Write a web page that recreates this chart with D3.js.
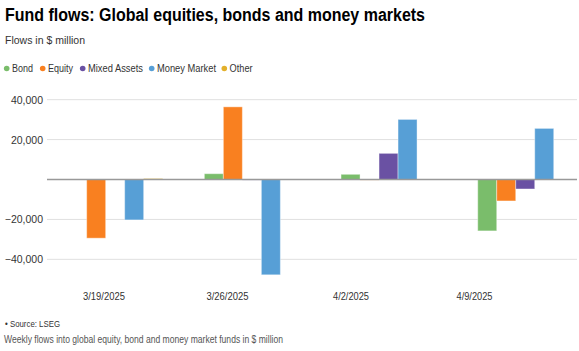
<!DOCTYPE html>
<html><head><meta charset="utf-8">
<script src="https://cdn.jsdelivr.net/npm/d3@7"></script>
<style>body{margin:0;background:#fff;}svg{display:block;font-family:"Liberation Sans",Arial,sans-serif;}</style>
</head><body><svg id="c" width="579" height="351"></svg>
<script>
const dates = ["3/19/2025", "3/26/2025", "4/2/2025", "4/9/2025"];
const seriesNames = ["Bond", "Equity", "Mixed Assets", "Money Market", "Other"];
const bond = [0, 2900, 2600, -25750];
const equity = [-29400, 36400, -300, -10750];
const mixedAssets = [0, -300, 13100, -4750];
const moneyMarket = [-20250, -47750, 30100, 25600];
const other = [500, 0, 0, 0];
const yTicks = [-40000, -20000, 20000, 40000];
const colors = ["#7abd6b", "#f98020", "#6a51a3", "#579fd6", "#e3b02b"];

const seriesValues = [bond, equity, mixedAssets, moneyMarket, other];
const svg = d3.select("#c");

function fit(sel, w) { sel.attr("textLength", w).attr("lengthAdjust", "spacingAndGlyphs"); return sel; }

fit(svg.append("text").attr("x", 5).attr("y", 21).attr("font-size", 17.5).attr("font-weight", "bold")
  .attr("fill", "#000").text("Fund flows: Global equities, bonds and money markets"), 420);
fit(svg.append("text").attr("x", 5).attr("y", 43.5).attr("font-size", 11.5).attr("fill", "#333").text("Flows in $ million"), 80);

// legend
const legendX = [6.7, 42.7, 82.7, 151.7, 224.3];
const legendW = [21, 25, 55, 59, 23];
seriesNames.forEach((n, i) => {
  const g = svg.append("g").attr("transform", `translate(${legendX[i]},68.5)`);
  g.append("circle").attr("r", 2.8).attr("cy", 0).attr("fill", colors[i]);
  fit(g.append("text").attr("x", 5.3).attr("y", 3.6).attr("font-size", 10).attr("fill", "#333").text(n), legendW[i]);
});

const y = d3.scaleLinear().domain([-50000, 50000]).range([279.3, 79.7]);
const x0 = d3.scaleBand().domain(dates).range([54, 586.4]).paddingInner(0.305).paddingOuter(0.1);
const x1 = d3.scaleBand().domain(seriesNames).range([0, x0.bandwidth()]);
const xl = d3.scalePoint().domain(dates).range([104, 474.5]);

// gridlines
svg.append("g").selectAll("line").data(yTicks).join("line")
  .attr("x1", 47).attr("x2", 577).attr("y1", d => y(d)).attr("y2", d => y(d))
  .attr("stroke", "#e0e0e0").attr("stroke-width", 1);
svg.append("g").selectAll("text").data(yTicks).join("text")
  .attr("x", 43).attr("y", d => y(d) + 4).attr("text-anchor", "end").attr("font-size", 10.5).attr("fill", "#333")
  .text(d => d3.format(",")(d));

// bars
const data = [];
dates.forEach((d, di) => seriesNames.forEach((s, si) => data.push({d, s, si, v: seriesValues[si][di]})));
svg.append("g").selectAll("rect").data(data).join("rect")
  .attr("x", d => x0(d.d) + x1(d.s))
  .attr("width", x1.bandwidth())
  .attr("y", d => y(Math.max(0, d.v)))
  .attr("height", d => Math.abs(y(d.v) - y(0)))
  .attr("fill", d => colors[d.si])
  .attr("stroke", "rgba(255,255,255,0.4)").attr("stroke-width", 1);

// zero line
svg.append("line").attr("x1", 47).attr("x2", 577).attr("y1", y(0)).attr("y2", y(0))
  .attr("stroke", "#999").attr("stroke-width", 1.5);

// x labels
const xlW = {"3/19/2025": 42, "3/26/2025": 42, "4/2/2025": 36, "4/9/2025": 36};
svg.append("g").selectAll("text").data(dates).join("text")
  .attr("x", d => xl(d)).attr("y", 299.5).attr("text-anchor", "middle").attr("font-size", 10.5).attr("fill", "#333")
  .attr("textLength", d => xlW[d]).attr("lengthAdjust", "spacingAndGlyphs")
  .text(d => d);

fit(svg.append("text").attr("x", 5).attr("y", 327).attr("font-size", 9.5).attr("fill", "#333").text("• Source: LSEG"), 55);
fit(svg.append("text").attr("x", 4).attr("y", 343).attr("font-size", 10).attr("fill", "#555")
  .text("Weekly flows into global equity, bond and money market funds in $ million"), 279);
</script></body></html>
